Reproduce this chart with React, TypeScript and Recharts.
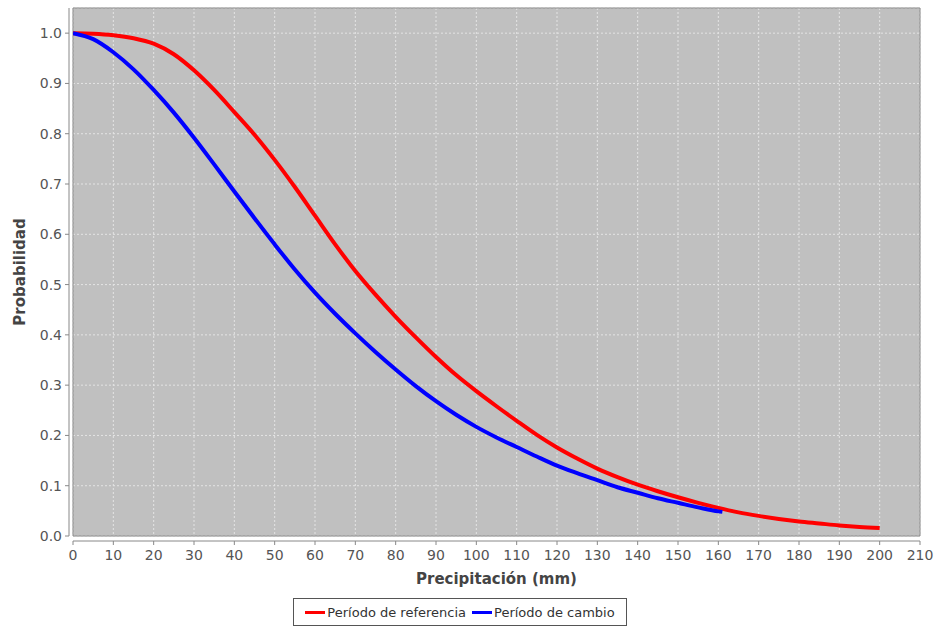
import React from 'react';
import { LineChart, Line, XAxis, YAxis, CartesianGrid, ReferenceLine, ReferenceArea } from 'recharts';

const refPrecip = [0, 5, 10, 15, 20, 25, 30, 35, 40, 45, 50, 55, 60, 65, 70, 75, 80, 85, 90, 95, 100, 105, 110, 115, 120, 125, 130, 135, 140, 145, 150, 155, 160, 165, 170, 175, 180, 185, 190, 195, 200];
const refProb = [1.0, 0.999, 0.996, 0.99, 0.979, 0.958, 0.926, 0.887, 0.843, 0.798, 0.748, 0.694, 0.637, 0.58, 0.527, 0.48, 0.436, 0.395, 0.356, 0.32, 0.288, 0.258, 0.229, 0.201, 0.176, 0.154, 0.134, 0.117, 0.102, 0.089, 0.077, 0.066, 0.056, 0.047, 0.04, 0.034, 0.029, 0.025, 0.021, 0.018, 0.016];

const changePrecip = [0, 5, 10, 15, 20, 25, 30, 35, 40, 45, 50, 55, 60, 65, 70, 75, 80, 85, 90, 95, 100, 105, 110, 115, 120, 125, 130, 135, 140, 145, 150, 155, 160, 161];
const changeProb = [1.0, 0.988, 0.962, 0.928, 0.887, 0.842, 0.792, 0.739, 0.685, 0.632, 0.58, 0.53, 0.484, 0.442, 0.403, 0.366, 0.331, 0.298, 0.268, 0.241, 0.217, 0.196, 0.177, 0.158, 0.14, 0.125, 0.111, 0.097, 0.086, 0.075, 0.066, 0.057, 0.049, 0.048];

const xTicks = [0, 10, 20, 30, 40, 50, 60, 70, 80, 90, 100, 110, 120, 130, 140, 150, 160, 170, 180, 190, 200, 210];
const yTicks = [0, 0.1, 0.2, 0.3, 0.4, 0.5, 0.6, 0.7, 0.8, 0.9, 1.0];

const seriesNames = ['Período de referencia', 'Período de cambio'];
const seriesColors = ['#ff0000', '#0000ff'];
const xLabel = 'Precipitación (mm)';
const yLabel = 'Probabilidad';

const refData = refPrecip.map((x, i) => ({ x, p: refProb[i] }));
const changeData = changePrecip.map((x, i) => ({ x, p: changeProb[i] }));

const FONT = '"DejaVu Sans", sans-serif';
const AXIS_COLOR = '#888888';
const TICK_TEXT = '#555555';

const XTick = (props: any) => {
  const { x, y, payload } = props;
  return (
    <g>
      <line x1={x} y1={y + 5} x2={x} y2={y + 9} stroke={AXIS_COLOR} />
      <text x={x} y={y + 24} textAnchor="middle" fill={TICK_TEXT} fontSize={14} fontFamily={FONT}>
        {payload.value}
      </text>
    </g>
  );
};

const YTick = (props: any) => {
  const { x, y, payload } = props;
  return (
    <g>
      <line x1={x - 8} y1={y} x2={x - 4} y2={y} stroke={AXIS_COLOR} />
      <text x={x - 11} y={y + 5} textAnchor="end" fill={TICK_TEXT} fontSize={14} fontFamily={FONT}>
        {Number(payload.value).toFixed(1)}
      </text>
    </g>
  );
};

export default function App() {
  return (
    <div style={{ position: 'absolute', left: 0, top: 0, width: 937, height: 627, background: '#fff' }}>
      <LineChart width={937} height={627} margin={{ top: 8, right: 17, bottom: 0, left: 0 }}>
        <CartesianGrid fill="#c0c0c0" stroke="#e4e4e4" strokeDasharray="2 2" />
        <XAxis
          type="number"
          dataKey="x"
          domain={[0, 210]}
          ticks={xTicks}
          height={91}
          axisLine={false}
          tickLine={false}
          tickSize={0}
          tickMargin={0}
          tick={<XTick />}
          allowDataOverflow
          label={{
            content: (p: any) => {
              const vb = p.viewBox;
              return (
                <text x={vb.x + vb.width / 2} y={vb.y + 48} textAnchor="middle" fill="#444" fontSize={15} fontWeight="bold" fontFamily={FONT}>
                  {xLabel}
                </text>
              );
            },
          }}
        />
        <YAxis
          type="number"
          domain={[0, 1.05]}
          ticks={yTicks}
          width={73}
          axisLine={false}
          tickLine={false}
          tickSize={0}
          tickMargin={0}
          tick={<YTick />}
          allowDataOverflow
          label={{
            content: (p: any) => {
              const vb = p.viewBox;
              const cx = 20;
              const cy = vb.y + vb.height / 2;
              return (
                <text x={cx} y={cy} transform={`rotate(-90 ${cx} ${cy})`} textAnchor="middle" dominantBaseline="central" fill="#444" fontSize={15} fontWeight="bold" fontFamily={FONT}>
                  {yLabel}
                </text>
              );
            },
          }}
        />
        <ReferenceArea x1={0} x2={210} y1={0} y2={1.05} fill="none" stroke={AXIS_COLOR} strokeWidth={1} fillOpacity={0} />
        <ReferenceLine
          y={0}
          shape={(p: any) => <line x1={p.x1} y1={p.y1 + 5} x2={p.x2} y2={p.y2 + 5} stroke={AXIS_COLOR} strokeWidth={1} />}
        />
        <ReferenceLine
          x={0}
          shape={(p: any) => <line x1={p.x1 - 4} y1={p.y1} x2={p.x2 - 4} y2={p.y2} stroke={AXIS_COLOR} strokeWidth={1} />}
        />
        <Line data={refData} dataKey="p" name={seriesNames[0]} type="monotone" stroke={seriesColors[0]} strokeWidth={4} dot={false} isAnimationActive={false} />
        <Line data={changeData} dataKey="p" name={seriesNames[1]} type="monotone" stroke={seriesColors[1]} strokeWidth={4} dot={false} isAnimationActive={false} />
      </LineChart>
      <div
        style={{
          position: 'absolute',
          left: 293,
          top: 598,
          width: 334,
          height: 28,
          boxSizing: 'border-box',
          border: '1px solid #555',
          display: 'flex',
          alignItems: 'center',
          justifyContent: 'center',
          fontFamily: FONT,
          fontSize: 13,
          color: '#333',
          whiteSpace: 'nowrap',
        }}
      >
        {seriesNames.map((n, i) => (
          <span key={n} style={{ display: 'inline-flex', alignItems: 'center', marginRight: i === 0 ? 6 : 0 }}>
            <span style={{ display: 'inline-block', width: 20, height: 3, background: seriesColors[i], marginRight: 2 }} />
            {n}
          </span>
        ))}
      </div>
    </div>
  );
}
